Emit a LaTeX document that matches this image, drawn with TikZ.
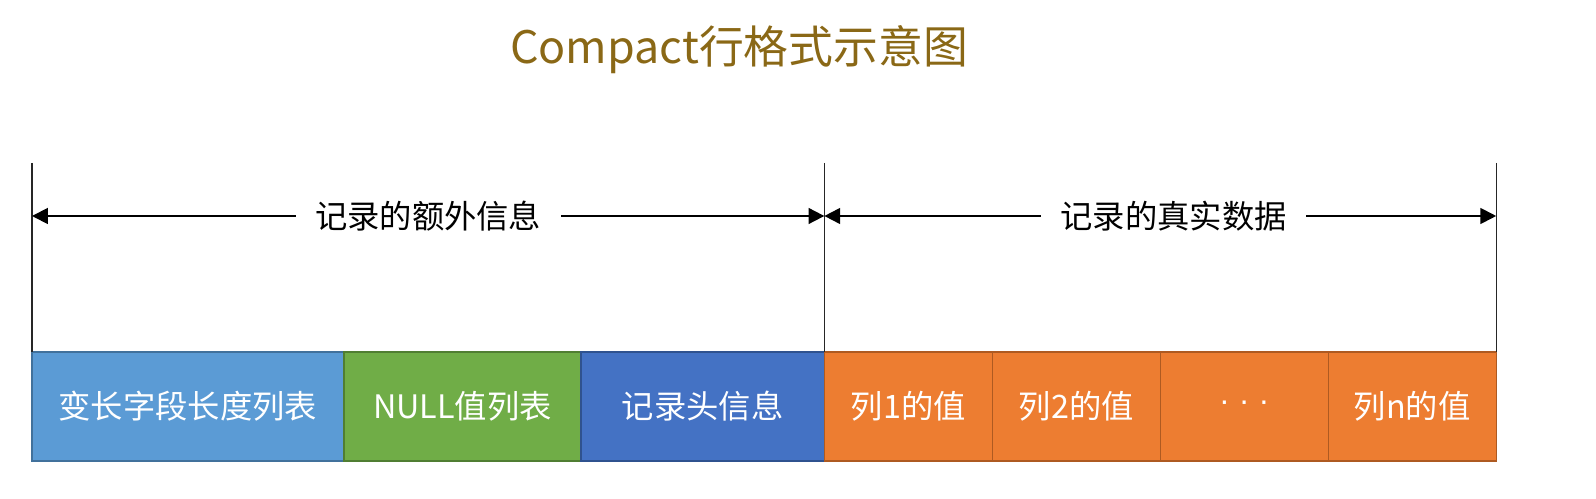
\documentclass[tikz,border=0pt]{standalone}
\usepackage{fontspec}
\setmainfont{Noto Sans CJK SC}
\newfontfamily\latinfont{Liberation Sans}
\usepackage{xcolor}
\usetikzlibrary{positioning,arrows.meta}
\definecolor{varcol}{RGB}{91,155,213}
\definecolor{varborder}{RGB}{65,113,156}
\definecolor{nullcol}{RGB}{112,173,71}
\definecolor{nullborder}{RGB}{80,126,50}
\definecolor{headcol}{RGB}{68,114,196}
\definecolor{headborder}{RGB}{47,82,143}
\definecolor{datacol}{RGB}{237,125,49}
\definecolor{databorder}{RGB}{174,90,33}
\definecolor{titlecol}{RGB}{138,104,22}

\begin{document}
\begin{tikzpicture}[
                x=0.02cm, y=-0.02cm,
                >={Triangle[length=9pt,width=9pt]},
                field/.style={rectangle, draw, line width=0.8pt, outer sep=0pt, inner sep=0pt,
                    minimum height=2.18cm, text=white, font=\fontsize{18.4}{22}\selectfont},
                colbox/.style={field, fill=datacol, draw=databorder, minimum width=3.36cm},
                frame/.style={draw=black!85, line width=0.7pt},
                span/.style={<->, draw=black, line width=1.1pt},
                spanlabel/.style={fill=white, inner xsep=11pt, font=\fontsize{18.4}{22}\selectfont}
                ]
                \useasboundingbox (0,0) rectangle (1596,499);

                \node[text=titlecol, font=\fontsize{25.5}{30}\selectfont] (title) at (739,50) {Compact行格式示意图};

                % row of fields
                \node[field, fill=varcol, draw=varborder, minimum width=6.24cm, anchor=north west] (varlen) at (32,352) {变长字段长度列表};
                \node[field, fill=nullcol, draw=nullborder, minimum width=4.74cm, right=0pt of varlen] (nulls) {NULL值列表};
                \node[field, fill=headcol, draw=headborder, minimum width=4.87cm, right=0pt of nulls] (header) {记录头信息};
                \node[colbox, right=0pt of header] (col1) {列1的值};
                \node[colbox, right=0pt of col1] (col2) {列2的值};
                \node[colbox, right=0pt of col2] (dots) {\latinfont · · ·};
                \node[colbox, right=0pt of dots] (coln) {列n的值};

                % vertical marks
                \coordinate (ltop) at (varlen.north west |- 0,163);
                \coordinate (mtop) at (header.north east |- 0,163);
                \coordinate (rtop) at (coln.north east |- 0,163);
                \draw[frame] (ltop) -- (varlen.north west);
                \draw[frame] (mtop) -- (header.north east);
                \draw[frame] (rtop) -- (coln.north east);

                % spans
                \coordinate (la) at (varlen.north west |- 0,216);
                \coordinate (ma) at (header.north east |- 0,216);
                \coordinate (ra) at (coln.north east |- 0,216);
                \draw[span] (la) -- node[spanlabel, pos=0.5] (extra) {记录的额外信息} (ma);
                \draw[span] (ma) -- node[spanlabel, pos=0.52] (real) {记录的真实数据} (ra);
            \end{tikzpicture}
\end{document}
